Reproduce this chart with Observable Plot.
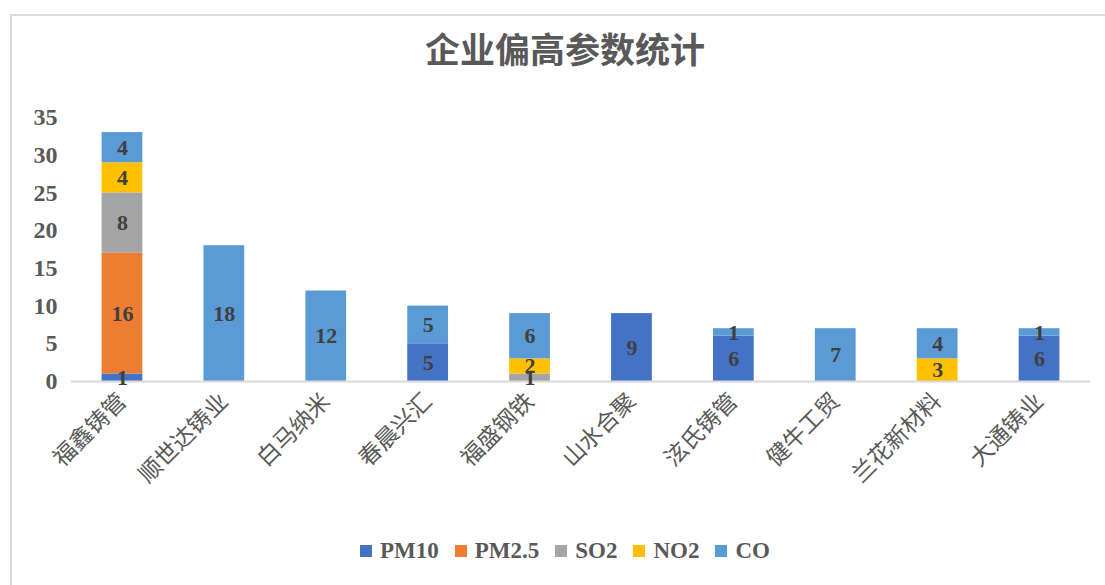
<!DOCTYPE html>
<html>
<head>
<meta charset="utf-8">
<script src="https://cdn.jsdelivr.net/npm/d3@7"></script>
<script src="https://cdn.jsdelivr.net/npm/@observablehq/plot@0.6"></script>
<style>
  html, body { margin: 0; padding: 0; background: #fff; width: 1105px; height: 585px; overflow: hidden; }
  #frame { position: absolute; left: 10px; top: 14px; width: 1100px; height: 580px;
           border-top: 2px solid #dcdcdc; border-left: 2px solid #dcdcdc; box-sizing: border-box; }
  #title { position: absolute; left: 565px; top: 30px; transform: translateX(-50%);
           font-family: "Noto Sans CJK SC", sans-serif; font-weight: 700; font-size: 35px;
           color: #595959; white-space: nowrap; line-height: 1; }
  #chart { position: absolute; left: 0; top: 90px; }
  #legend { position: absolute; left: 565px; top: 538px; transform: translateX(-50%);
            display: flex; align-items: center; gap: 16px; white-space: nowrap;
            font-family: "Liberation Serif", serif; font-weight: 700; font-size: 23px; color: #595959; }
  #legend .item { display: flex; align-items: center; gap: 8px; }
  #legend .sw { width: 12px; height: 12px; display: inline-block; }
</style>
</head>
<body>
<div id="frame"></div>
<div id="title">企业偏高参数统计</div>
<div id="chart"></div>
<div id="legend"></div>
<script>
const companies = ["福鑫铸管", "顺世达铸业", "白马纳米", "春晨兴汇", "福盛钢铁", "山水合聚", "泫氏铸管", "健牛工贸", "兰花新材料", "大通铸业"];
const seriesNames = ["PM10", "PM2.5", "SO2", "NO2", "CO"];
const seriesColors = ["#4472C4", "#ED7D31", "#A5A5A5", "#FFC000", "#5B9BD5"];
const PM10  = [1, 0, 0, 5, 0, 9, 6, 0, 0, 6];
const PM25  = [16, 0, 0, 0, 0, 0, 0, 0, 0, 0];
const SO2   = [8, 0, 0, 0, 1, 0, 0, 0, 0, 0];
const NO2   = [4, 0, 0, 0, 2, 0, 0, 0, 3, 0];
const CO    = [4, 18, 12, 5, 6, 0, 1, 7, 4, 1];
const yTicks = [0, 5, 10, 15, 20, 25, 30, 35];

const seriesValues = [PM10, PM25, SO2, NO2, CO];
const data = [];
seriesNames.forEach((s, si) => {
  companies.forEach((c, ci) => {
    const v = seriesValues[si][ci];
    if (v > 0) data.push({company: c, series: s, value: v});
  });
});

const plot = Plot.plot({
  width: 1105,
  height: 430,
  marginTop: 27,
  marginBottom: 139,
  marginLeft: 71,
  marginRight: 15,
  style: { background: "transparent", overflow: "visible" },
  x: { domain: companies, paddingInner: 0.6, paddingOuter: 0.3, round: false, label: null },
  y: { domain: [0, 35], label: null },
  color: { domain: seriesNames, range: seriesColors },
  marks: [
    Plot.barY(data, Plot.stackY({ x: "company", y: "value", z: "series", fill: "series", order: seriesNames })),
    Plot.ruleY([0], { stroke: "#d9d9d9", strokeWidth: 2 }),
    Plot.text(data, Plot.stackY({ x: "company", y: "value", z: "series", order: seriesNames, text: d => String(d.value),
      fill: "#404040", fontSize: 22, fontWeight: 700, fontFamily: "Liberation Serif, serif" })),
    Plot.axisY({ ticks: yTicks, tickSize: 0, tickPadding: 14, label: null,
      fontSize: 24, fontWeight: 700, fontFamily: "Liberation Serif, serif", fill: "#595959" }),
    Plot.axisX({ tickSize: 0, tickPadding: 16, tickRotate: -45, label: null,
      fontSize: 23, fontFamily: "Noto Sans CJK SC, sans-serif", fill: "#595959" })
  ]
});
document.getElementById("chart").appendChild(plot);

const legend = document.getElementById("legend");
seriesNames.forEach((s, i) => {
  const item = document.createElement("div");
  item.className = "item";
  const sw = document.createElement("span");
  sw.className = "sw";
  sw.style.background = seriesColors[i];
  const t = document.createElement("span");
  t.textContent = s;
  item.appendChild(sw);
  item.appendChild(t);
  legend.appendChild(item);
});
</script>
</body>
</html>
